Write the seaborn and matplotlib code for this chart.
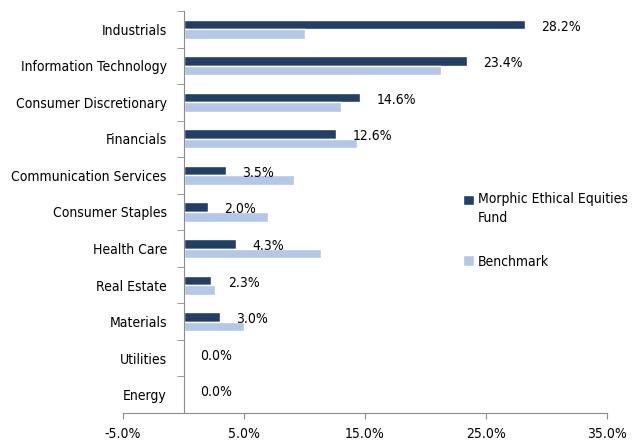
import pandas as pd
import matplotlib.pyplot as plt
import seaborn as sns

sectors = ['Industrials', 'Information Technology', 'Consumer Discretionary',
           'Financials', 'Communication Services', 'Consumer Staples',
           'Health Care', 'Real Estate', 'Materials', 'Utilities', 'Energy']
fund = [28.2, 23.4, 14.6, 12.6, 3.5, 2.0, 4.3, 2.3, 3.0, 0.0, 0.0]
benchmark = [10.0, 21.3, 13.0, 14.3, 9.1, 7.0, 11.4, 2.6, 5.0, 0.0, 0.0]
series = ['Morphic Ethical Equities\nFund', 'Benchmark']
colors = ['#243F66', '#B4C7E7']

sns.set_style('white')
plt.rcParams['font.family'] = ['DejaVu Sans']
plt.rcParams['font.stretch'] = 'condensed'
plt.rcParams['text.color'] = 'black'
plt.rcParams['xtick.color'] = 'black'
plt.rcParams['ytick.color'] = 'black'

df = pd.DataFrame({'sector': sectors * 2,
                   'value': fund + benchmark,
                   'series': [series[0]] * len(sectors) + [series[1]] * len(sectors)})

fig = plt.figure(figsize=(6.43, 4.42), dpi=100)
ax = fig.add_axes([123 / 643, 1 - 413 / 442, (607 - 123) / 643, (413 - 11) / 442])

sns.barplot(data=df, y='sector', x='value', hue='series', order=sectors,
            hue_order=series, palette=dict(zip(series, colors)),
            orient='h', width=0.52, saturation=1, ax=ax, legend=True)

# value labels for the fund
for i, v in enumerate(fund):
    ax.annotate(f'{v:.1f}%', (v, i - 0.07), xytext=(12, 0),
                textcoords='offset points', va='center', ha='left',
                fontsize=10, color='black')

ax.set_xlim(-5, 35)
ax.set_ylim(len(sectors) - 0.5, -0.5)
ax.set_xticks([-5, 5, 15, 25, 35])
ax.set_xticklabels(['-5.0%', '5.0%', '15.0%', '25.0%', '35.0%'], fontsize=10)
ax.set_xlabel('')
ax.set_ylabel('')

for s in ['top', 'right']:
    ax.spines[s].set_visible(False)
ax.spines['left'].set_position(('data', 0))
ax.spines['left'].set_color('#8C8C8C')
ax.spines['bottom'].set_color('#8C8C8C')

# tick marks between categories, labels at the centres
ax.set_yticks(range(len(sectors)))
ax.set_yticklabels(sectors, fontsize=10)
ax.set_yticks([i - 0.5 for i in range(len(sectors) + 1)], minor=True)
ax.tick_params(axis='y', which='major', length=0, pad=12)
ax.tick_params(axis='y', which='minor', left=True, length=5, color='#8C8C8C')
ax.tick_params(axis='x', bottom=True, length=4, color='#8C8C8C', pad=6)

leg = ax.legend(loc='upper left', bbox_to_anchor=(450 / 643, 1 - 180 / 442),
                bbox_transform=fig.transFigure, frameon=False, fontsize=10,
                handlelength=0.8, handleheight=0.8, handletextpad=0.3,
                labelspacing=2.1)
for t in leg.get_texts():
    t.set_linespacing(1.45)
# put the fund marker beside the first line of its label
h = leg.legend_handles[0]
h.set_y(h.get_y() + 7)

fig.savefig('out.png', dpi=100)
